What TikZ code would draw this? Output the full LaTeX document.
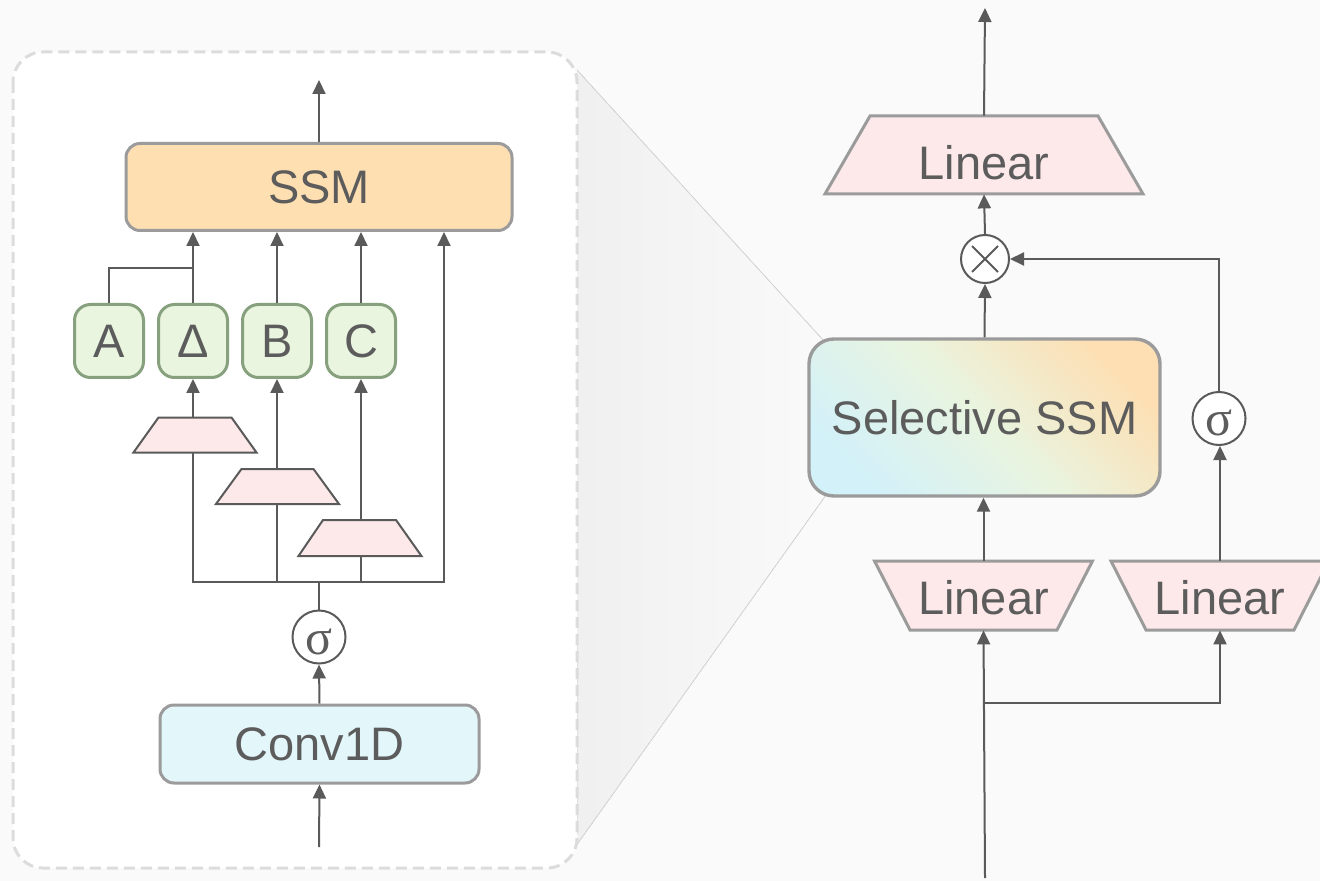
\documentclass[tikz,border=0pt]{standalone}
\usepackage{fontspec}
\setmainfont{Liberation Sans}
\newfontfamily\sigmafont{Liberation Serif}
\usetikzlibrary{arrows.meta}
\definecolor{bg}{HTML}{FAFAFA}
\definecolor{wire}{HTML}{5A5A5A}
\definecolor{txt}{HTML}{5C5C5C}
\definecolor{edge}{HTML}{9B9B9B}
\definecolor{peach}{HTML}{FEDFB2}
\definecolor{mint}{HTML}{E9F5DF}
\definecolor{mintedge}{HTML}{87A07D}
\definecolor{ice}{HTML}{E3F6FA}
\definecolor{rose}{HTML}{FDE9E9}
\definecolor{dashc}{HTML}{DCDCDC}
\definecolor{gcyan}{HTML}{D3F1F9}
\definecolor{ggreen}{HTML}{E9F4DF}
\definecolor{gpeach}{HTML}{FDDFB3}
\begin{document}
\begin{tikzpicture}[x=0.5pt,y=-0.5pt,
  font=\fontsize{23.5}{28}\selectfont, text=txt,
  arr/.style={draw=wire, line width=1pt, -{Triangle[length=7pt,width=6.5pt]}},
  wireline/.style={draw=wire, line width=1pt},
  box/.style={draw=edge, line width=1.5pt, rounded corners=7pt, inner sep=0pt},
  param/.style={draw=mintedge, fill=mint, line width=1.5pt, rounded corners=8pt,
    minimum width=34.5pt, minimum height=36.5pt, inner sep=0pt},
  projshape/.style={fill=rose, draw=wire, line width=1pt},
  linshape/.style={fill=rose, draw=edge, line width=1.5pt},
  slot/.style={rectangle, inner sep=0pt},
  act/.style={circle, draw=wire, fill=white, line width=1pt, minimum size=26.5pt,
    inner sep=0pt, font=\sigmafont\fontsize{25}{28}\selectfont,
    text height=17pt, text depth=0pt},
]
\useasboundingbox (0,0) rectangle (1320,881);
\fill[bg] (0,0) rectangle (1320,881);

% zoom wedge between the detail panel and the block
\fill[left color=black!6, right color=bg] (577,70) -- (823,340) -- (826,495) -- (578,843) -- cycle;
\draw[black!16, line width=0.4pt] (577,70) -- (823,340);
\draw[black!16, line width=0.4pt] (578,843) -- (826,495);

% detail panel
\draw[dashc, line width=1.5pt, dash pattern=on 5.5pt off 3pt, fill=white,
  rounded corners=15pt] (13,52) rectangle (577,868);

% ---- detail of the selective SSM ----
\node[box, fill=peach, minimum width=193pt, minimum height=43.5pt] (ssm) at (319,187) {SSM};
\node[param] (pa) at (109,341) {A};
\node[param] (pd) at (193,341) {Δ};
\node[param] (pb) at (277,341) {B};
\node[param] (pc) at (361,341) {C};

% projections producing Delta, B and C
\filldraw[projshape] (133.5,452.5) -- (256.5,452.5) -- (231.5,417.5) -- (158.5,417.5) -- cycle;
\node[slot, minimum width=61.5pt, minimum height=17.5pt] (t1) at (195,435) {};
\filldraw[projshape] (216,504) -- (339,504) -- (313.5,469) -- (241.5,469) -- cycle;
\node[slot, minimum width=61.5pt, minimum height=17.5pt] (t2) at (277.5,486.5) {};
\filldraw[projshape] (298.5,556) -- (421.5,556) -- (396,520) -- (323,520) -- cycle;
\node[slot, minimum width=61.5pt, minimum height=18pt] (t3) at (360,538) {};

\node[act] (s1) at (319,637) {σ};
\node[box, fill=ice, minimum width=159.5pt, minimum height=39pt] (conv) at (319.5,744) {Conv1D};

\coordinate (ssmout) at (319,80);
\coordinate (convin) at (319,847);
\coordinate (busL) at (193,582);
\coordinate (busR) at (444,582);
\coordinate (ajoin) at (193,268);

\draw[arr] (ssm.north) -- (ssmout);
\draw[wireline] (pa.north) |- (ajoin);
\draw[arr] (pd.north) -- (pd.north |- ssm.south);
\draw[arr] (pb.north) -- (pb.north |- ssm.south);
\draw[arr] (pc.north) -- (pc.north |- ssm.south);
\draw[arr] (pd.south |- t1.north) -- (pd.south);
\draw[arr] (pb.south |- t2.north) -- (pb.south);
\draw[arr] (pc.south |- t3.north) -- (pc.south);
\draw[arr] (busL |- t1.south) -- (busL) -- (busR) -- (busR |- ssm.south);
\draw[wireline] (pb.south |- t2.south) -- (pb.south |- busL);
\draw[wireline] (pc.south |- t3.south) -- (pc.south |- busL);
\draw[wireline] (s1.north) -- (s1.north |- busL);
\draw[arr] (conv.north) -- (s1.south);
\draw[arr] (convin) -- (conv.south);

% ---- gated block ----
\filldraw[linshape] (825,194) -- (1143,194) -- (1098,116) -- (870,116) -- cycle;
\node[slot, minimum width=159pt, minimum height=39pt, text height=24.5pt, text depth=0pt]
  (lt) at (984,155) {Linear};

\node[circle, draw=wire, fill=white, line width=1pt, minimum size=24pt, inner sep=0pt] (mul) at (985,259) {};
\draw[wire, line width=1pt] (mul.center) ++(-6.5pt,-6.5pt) -- ++(13pt,13pt);
\draw[wire, line width=1pt] (mul.center) ++(-6.5pt,6.5pt) -- ++(13pt,-13pt);

\node[box, rounded corners=12.5pt, line width=1.7pt, minimum width=175.5pt, minimum height=78.5pt,
  left color=gcyan, right color=gpeach, middle color=ggreen, shading angle=135] (sel) at (984.5,417.5) {Selective SSM};
\node[act] (s2) at (1219,418.5) {σ};

\filldraw[linshape] (874.5,561) -- (1092.5,561) -- (1057,630) -- (910,630) -- cycle;
\node[slot, minimum width=109pt, minimum height=34.5pt, text height=19pt, text depth=0pt]
  (ll) at (983.5,595.5) {Linear};
\filldraw[linshape] (1111,561) -- (1329,561) -- (1294,630) -- (1146,630) -- cycle;
\node[slot, minimum width=109pt, minimum height=34.5pt, text height=19pt, text depth=0pt]
  (lr) at (1220,595.5) {Linear};

\coordinate (top) at (985,8);
\coordinate (inR) at (985,878);
\coordinate (fork) at (985,703);

\draw[arr] (lt.north) -- (top);
\draw[arr] (mul.north) -- (lt.south);
\draw[arr] (sel.north) -- (mul.south);
\draw[arr] (s2.north) |- (mul.east);
\draw[arr] (ll.north) -- (ll.north |- sel.south);
\draw[arr] (lr.north) -- (lr.north |- s2.south);
\draw[arr] (inR) -- (ll.south);
\draw[arr] (fork) -| (lr.south);
\end{tikzpicture}
\end{document}
